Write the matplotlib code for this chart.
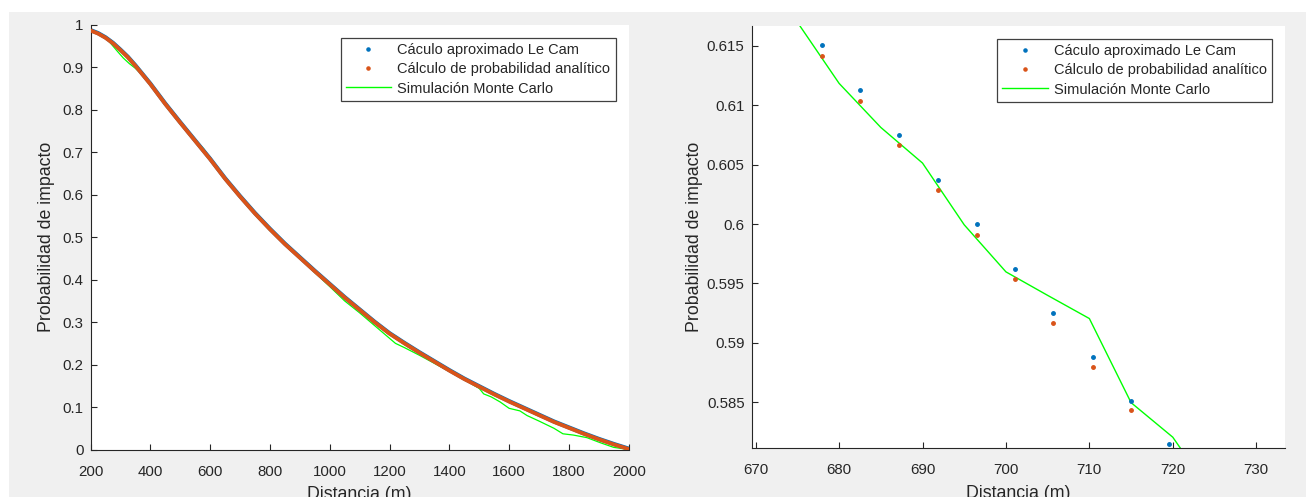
import matplotlib.pyplot as plt
from matplotlib.lines import Line2D
from matplotlib.patches import Rectangle
from matplotlib.ticker import FuncFormatter

plt.rcParams['font.family'] = ['Liberation Sans', 'DejaVu Sans']

# panel izquierdo: rango completo
dist = [200, 225, 250, 275, 300, 325, 350, 400, 450, 500, 550, 600, 650, 700, 750,
        800, 850, 900, 950, 1000, 1050, 1100, 1150, 1200, 1250, 1300, 1350, 1400,
        1450, 1500, 1550, 1600, 1650, 1700, 1750, 1800, 1850, 1900, 1950, 2000]
lecam = [0.988, 0.981, 0.971, 0.958, 0.942, 0.925, 0.905, 0.862, 0.815, 0.771,
         0.728, 0.685, 0.639, 0.597, 0.557, 0.520, 0.485, 0.453, 0.421, 0.390,
         0.359, 0.330, 0.301, 0.274, 0.251, 0.229, 0.208, 0.187, 0.167, 0.149,
         0.131, 0.114, 0.098, 0.082, 0.066, 0.052, 0.038, 0.025, 0.013, 0.002]
analitico = [0.987, 0.980, 0.970, 0.957, 0.941, 0.924, 0.904, 0.861, 0.814, 0.770,
             0.727, 0.684, 0.638, 0.596, 0.556, 0.519, 0.484, 0.452, 0.420, 0.389,
             0.358, 0.329, 0.300, 0.273, 0.250, 0.228, 0.207, 0.186, 0.166, 0.148,
             0.130, 0.113, 0.097, 0.081, 0.065, 0.051, 0.037, 0.024, 0.012, 0.001]
mc_dist = [200, 230, 260, 290, 310, 330, 350, 380, 420, 460, 500, 540, 560, 580,
           600, 650, 700, 750, 800, 850, 900, 950, 1000, 1050, 1100, 1150, 1200,
           1220, 1250, 1300, 1350, 1400, 1440, 1480, 1500, 1515, 1540, 1570, 1600,
           1636, 1660, 1700, 1750, 1780, 1815, 1860, 1905, 1950, 2000]
mc_prob = [0.989, 0.978, 0.963, 0.938, 0.922, 0.909, 0.898, 0.878, 0.843, 0.803,
           0.768, 0.735, 0.722, 0.707, 0.686, 0.636, 0.594, 0.554, 0.516, 0.482,
           0.450, 0.417, 0.384, 0.350, 0.322, 0.292, 0.262, 0.250, 0.240, 0.222,
           0.203, 0.184, 0.169, 0.152, 0.144, 0.131, 0.124, 0.112, 0.097, 0.091,
           0.080, 0.067, 0.050, 0.037, 0.034, 0.028, 0.016, 0.005, 0.000]

# panel derecho: zoom
zoom_dist = [677.9, 682.5, 687.2, 691.8, 696.5, 701.1, 705.7, 710.4, 715.0, 719.6]
zoom_lecam = [0.61506, 0.61126, 0.60750, 0.60373, 0.60000, 0.59620, 0.59250,
              0.58880, 0.58513, 0.58149]
zoom_analitico = [0.61416, 0.61039, 0.60662, 0.60289, 0.59912, 0.59539, 0.59168,
                  0.58798, 0.58433, 0.58066]
zoom_mc_dist = [670, 675, 680, 685, 690, 695, 700, 705, 710, 715, 720, 725]
zoom_mc_prob = [0.6215, 0.6170, 0.61185, 0.60814, 0.60514, 0.59994, 0.59598,
                0.59400, 0.59205, 0.58497, 0.58206, 0.57700]

leyenda = ['Cáculo aproximado Le Cam', 'Cálculo de probabilidad analítico',
           'Simulación Monte Carlo']

azul = '#0072BD'
rojo = '#D95319'
verde = '#00FF00'
gris = '#262626'

W, H = 1306, 497
fig = plt.figure(figsize=(W / 100, H / 100), dpi=100, facecolor='white')
fig.patches.append(Rectangle((9 / W, 0), 1 - 9 / W, (H - 12) / H, transform=fig.transFigure,
                             facecolor='#f0f0f0', edgecolor='none', zorder=-10))

def px_axes(x0, y0, x1, y1):
    return fig.add_axes([x0 / W, (H - y1) / H, (x1 - x0) / W, (y1 - y0) / H])

ax1 = px_axes(90.5, 25, 628.7, 449.5)
ax2 = px_axes(751.5, 26, 1285.4, 448)

fmt = FuncFormatter(lambda v, p: '%g' % round(v, 6))

def estilo(ax, ylabpad):
    for s in ['top', 'right']:
        ax.spines[s].set_visible(False)
    for s in ['left', 'bottom']:
        ax.spines[s].set_color(gris)
        ax.spines[s].set_linewidth(0.8)
    ax.tick_params(direction='in', length=4, width=0.8, color=gris, labelcolor=gris,
                   labelsize=10.8)
    ax.tick_params(axis='x', pad=11)
    ax.tick_params(axis='y', pad=5)
    ax.xaxis.set_major_formatter(fmt)
    ax.yaxis.set_major_formatter(fmt)
    ax.set_xlabel('Distancia (m)', fontsize=12.8, color=gris, labelpad=5.5)
    ax.set_ylabel('Probabilidad de impacto', fontsize=12.8, color=gris, labelpad=ylabpad)
    handles = [Line2D([], [], ls='none', marker='.', markersize=4.5, color=azul),
               Line2D([], [], ls='none', marker='.', markersize=4.5, color=rojo),
               Line2D([], [], color=verde, lw=1.0)]
    bb = ax.get_position()
    wpx, hpx = bb.width * W, bb.height * H
    leg = ax.legend(handles, leyenda, loc='upper right', fontsize=10.5,
                    bbox_to_anchor=(1 - 13.2 / wpx, 1 - 13.2 / hpx), borderaxespad=0,
                    fancybox=False, framealpha=1, edgecolor='#404040',
                    handlelength=3.1, handletextpad=0.45, labelspacing=0.35,
                    borderpad=0.35)
    leg.get_frame().set_linewidth(0.9)
    for t in leg.get_texts():
        t.set_color(gris)

ax1.plot(mc_dist, mc_prob, color=verde, lw=0.9, zorder=1)
ax1.plot(dist, lecam, color=azul, lw=3.0, zorder=2)
ax1.plot(dist, analitico, color=rojo, lw=2.8, zorder=3)
ax1.set_xlim(200, 2000)
ax1.set_ylim(0, 1)
ax1.set_xticks(range(200, 2001, 200))
ax1.set_yticks([i / 10 for i in range(11)])
estilo(ax1, 5)

ax2.plot(zoom_mc_dist, zoom_mc_prob, color=verde, lw=1.0, zorder=1)
ax2.plot(zoom_dist, zoom_lecam, ls='none', marker='.', markersize=5, color=azul, zorder=2)
ax2.plot(zoom_dist, zoom_analitico, ls='none', marker='.', markersize=5, color=rojo, zorder=3)
ax2.set_xlim(669.5, 733.5)
ax2.set_ylim(0.58115, 0.61668)
ax2.set_xticks(range(670, 731, 10))
ax2.set_yticks([0.585, 0.59, 0.595, 0.6, 0.605, 0.61, 0.615])
estilo(ax2, 3)

fig.savefig('out.png', dpi=100)
